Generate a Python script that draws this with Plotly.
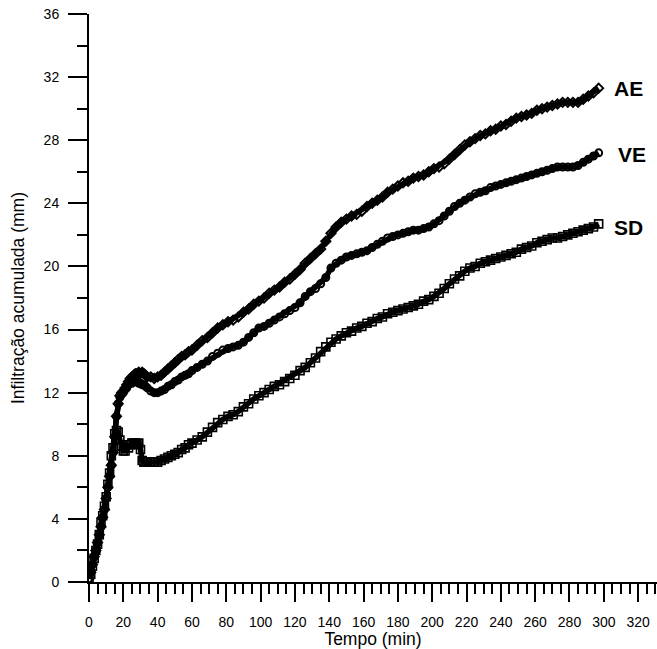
import plotly.graph_objects as go

# time (min)
t_early = list(range(0, 35))
t_mid = list(range(36, 60, 2))
t_late = list(range(60, 298, 3))
tempo = t_early + t_mid + t_late

ae = [0.2, 0.6, 1.1, 1.6, 2.0, 2.5, 3.0, 3.5, 4.1, 4.6, 5.3, 6.0, 6.7, 7.4, 8.2,
      9.2, 10.5, 11.3, 11.8, 12.0, 12.1, 12.3, 12.5, 12.7, 12.9, 13.0, 13.1, 13.2, 13.2, 13.3,
      13.2, 13.3, 13.2, 13.1, 13.0,
      13.0, 12.9, 13.0, 13.1, 13.3, 13.5, 13.7, 13.9, 14.1, 14.3, 14.4, 14.6,
      14.7, 15.0, 15.3, 15.5, 15.8, 16.1, 16.3, 16.5, 16.6, 16.8,
      17.1, 17.3, 17.6, 17.8, 18.0, 18.3, 18.5, 18.7, 19.0, 19.2,
      19.5, 19.8, 20.2, 20.5, 20.8, 21.1, 21.6, 22.1, 22.5, 22.8,
      23.0, 23.2, 23.3, 23.5, 23.8, 24.0, 24.2, 24.4, 24.7, 24.9,
      25.1, 25.3, 25.4, 25.6, 25.7, 25.8, 26.0, 26.2, 26.3, 26.5,
      26.8, 27.1, 27.4, 27.7, 27.9, 28.1, 28.3, 28.4, 28.6, 28.7,
      28.9, 29.0, 29.2, 29.4, 29.5, 29.6, 29.7, 29.9, 30.0, 30.1,
      30.2, 30.3, 30.4, 30.4, 30.4, 30.4, 30.6, 30.8, 31.0, 31.3]

ve = [0.2, 0.6, 1.1, 1.6, 2.0, 2.5, 3.0, 3.5, 4.1, 4.6, 5.3, 6.0, 6.7, 7.4, 8.2,
      9.2, 10.5, 11.3, 11.7, 11.9, 12.0, 12.2, 12.3, 12.5, 12.6, 12.6, 12.7, 12.7, 12.7, 12.6,
      12.6, 12.5, 12.5, 12.4, 12.3,
      12.1, 12.0, 12.0, 12.1, 12.2, 12.4, 12.5, 12.7, 12.8, 13.0, 13.1, 13.2,
      13.4, 13.6, 13.8, 14.0, 14.3, 14.5, 14.7, 14.8, 14.9, 15.0,
      15.2, 15.5, 15.8, 16.1, 16.2, 16.4, 16.6, 16.8, 17.0, 17.2,
      17.4, 17.7, 18.1, 18.4, 18.6, 18.9, 19.3, 19.9, 20.2, 20.4,
      20.6, 20.7, 20.8, 20.9, 21.0, 21.2, 21.4, 21.6, 21.8, 21.9,
      22.0, 22.1, 22.2, 22.3, 22.3, 22.4, 22.5, 22.7, 22.9, 23.2,
      23.5, 23.8, 24.0, 24.2, 24.4, 24.6, 24.7, 24.8, 25.0, 25.1,
      25.2, 25.3, 25.4, 25.5, 25.6, 25.7, 25.8, 25.9, 26.0, 26.1,
      26.2, 26.3, 26.3, 26.3, 26.3, 26.4, 26.6, 26.8, 27.0, 27.2]

sd = [0.2, 0.5, 1.0, 1.5, 2.0, 2.4, 3.0, 3.8, 4.2, 4.8, 5.4, 6.2, 6.9, 8.0, 8.5,
      9.4, 9.6, 9.5, 9.0, 8.6, 8.3, 8.3, 8.7, 8.5, 8.7, 8.8, 8.8, 8.8, 8.7, 8.8,
      8.4, 7.7, 7.6, 7.6, 7.6,
      7.6, 7.6, 7.6, 7.7, 7.8, 7.9, 8.0, 8.1, 8.2, 8.4, 8.5, 8.7,
      8.8, 9.0, 9.2, 9.5, 9.8, 10.1, 10.3, 10.5, 10.6, 10.8,
      11.1, 11.3, 11.6, 11.8, 12.0, 12.2, 12.4, 12.5, 12.7, 12.9,
      13.1, 13.4, 13.6, 13.9, 14.2, 14.6, 14.9, 15.2, 15.4, 15.6,
      15.8, 15.9, 16.1, 16.2, 16.4, 16.5, 16.7, 16.8, 17.0, 17.1,
      17.2, 17.3, 17.4, 17.5, 17.6, 17.8, 17.9, 18.1, 18.3, 18.6,
      18.9, 19.2, 19.4, 19.7, 19.9, 20.0, 20.2, 20.3, 20.4, 20.5,
      20.6, 20.7, 20.8, 20.9, 21.1, 21.2, 21.3, 21.5, 21.6, 21.7,
      21.8, 21.8, 21.9, 22.0, 22.1, 22.2, 22.3, 22.4, 22.5, 22.7]

labels = ["AE", "VE", "SD"]
label_x = [305, 307, 305]
label_y = [31.25, 27.1, 22.45]

FONT = "Liberation Sans, Arial, sans-serif"

fig = go.Figure()
fig.add_trace(go.Scatter(x=tempo, y=ae, mode="lines+markers", name="AE",
                         line=dict(color="black", width=5.5),
                         marker=dict(symbol="diamond-open", size=7, color="black",
                                     line=dict(color="black", width=2))))
fig.add_trace(go.Scatter(x=tempo, y=ve, mode="lines+markers", name="VE",
                         line=dict(color="black", width=5.5),
                         marker=dict(symbol="circle-open", size=7, color="black",
                                     line=dict(color="black", width=2))))
fig.add_trace(go.Scatter(x=tempo, y=sd, mode="lines+markers", name="SD",
                         line=dict(color="black", width=5.5),
                         marker=dict(symbol="square-open", size=8, color="black",
                                     line=dict(color="black", width=1.6))))

for lab, lx, ly in zip(labels, label_x, label_y):
    fig.add_annotation(x=lx, y=ly, text="<b>%s</b>" % lab, showarrow=False,
                       xanchor="left", yanchor="middle",
                       font=dict(family=FONT, size=21, color="black"))

fig.update_layout(
    width=657, height=649,
    margin=dict(l=89, r=0, t=14, b=67),
    paper_bgcolor="white", plot_bgcolor="white",
    showlegend=False,
    font=dict(family=FONT, size=14, color="black"),
)
fig.update_xaxes(
    range=[0, 331], dtick=20, tick0=0,
    showgrid=False, zeroline=False,
    showline=True, linecolor="black", linewidth=2,
    ticks="outside", ticklen=18, tickwidth=2, tickcolor="black",
    minor=dict(dtick=5, ticks="outside", ticklen=10, tickwidth=2, tickcolor="black", showgrid=False),
    ticklabelstandoff=8,
    tickfont=dict(family=FONT, size=14),
    title=dict(text="Tempo (min)", font=dict(family=FONT, size=17.5), standoff=2),
)
fig.update_yaxes(
    range=[0, 36], dtick=4, tick0=0,
    showgrid=False, zeroline=False,
    showline=True, linecolor="black", linewidth=2,
    ticks="outside", ticklen=19, tickwidth=2, tickcolor="black",
    minor=dict(dtick=2, ticks="outside", ticklen=10, tickwidth=2, tickcolor="black", showgrid=False),
    ticklabelstandoff=6,
    tickfont=dict(family=FONT, size=14),
    title=dict(text="Infiltração acumulada (mm)", font=dict(family=FONT, size=17.5), standoff=14),
)

fig.write_html("out.html")
